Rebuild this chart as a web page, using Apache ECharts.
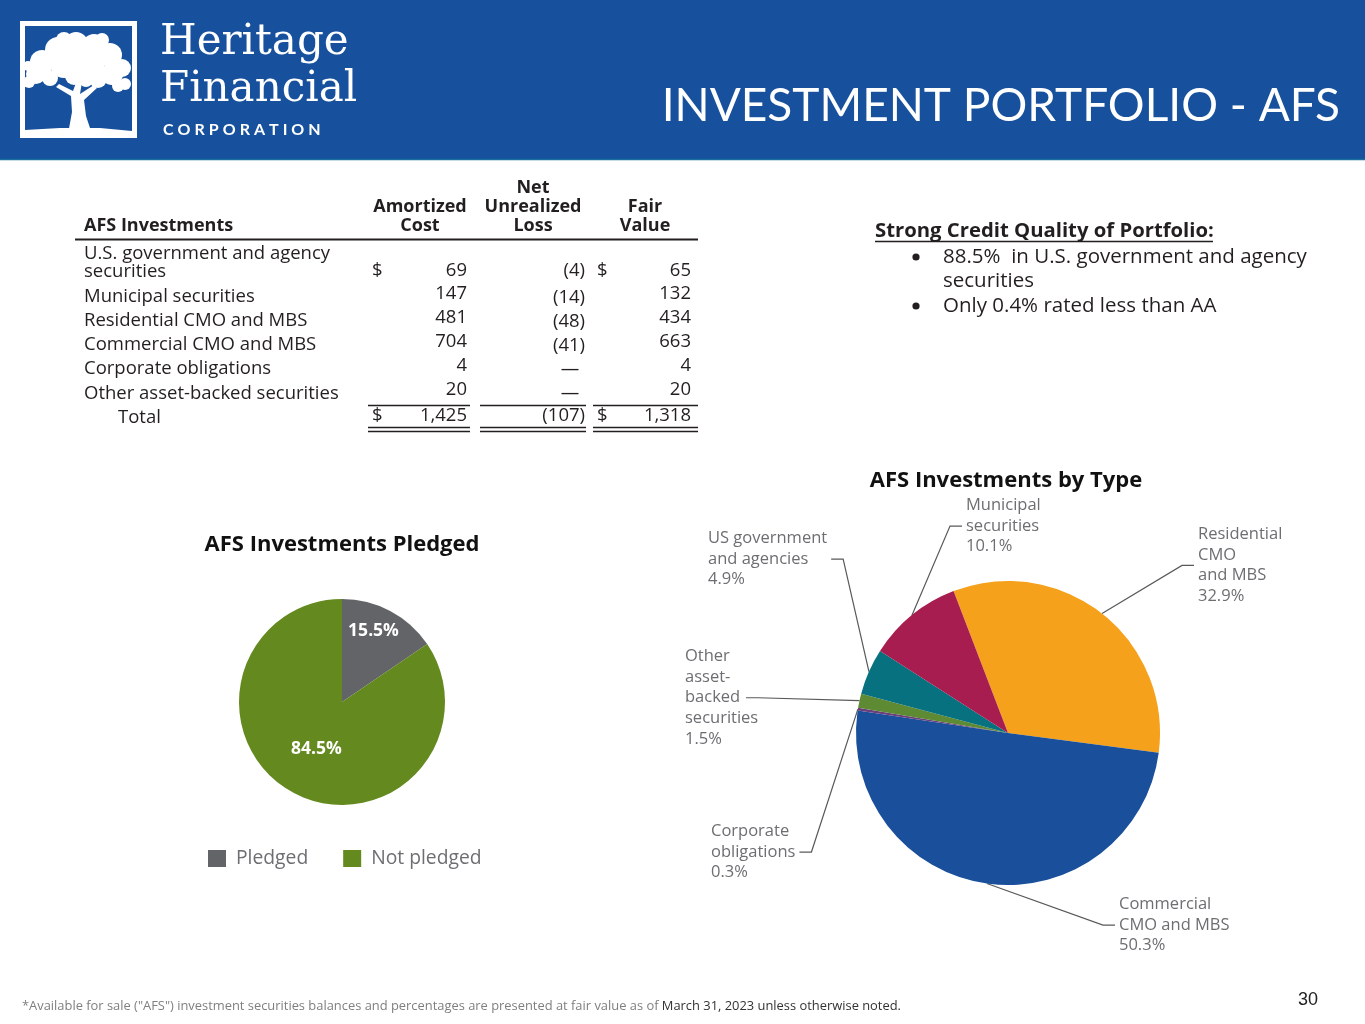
<!DOCTYPE html>
<html>
<head>
<meta charset="utf-8">
<title>Investment Portfolio - AFS</title>
<script src="https://cdn.jsdelivr.net/npm/echarts/dist/echarts.min.js"></script>
<style>
html,body{margin:0;padding:0;background:#ffffff;}
#chart{width:1365px;height:1024px;}
</style>
</head>
<body>
<div id="chart"></div>
<script>
// ---------------- DATA ----------------
const tableHeaders = ['AFS Investments', 'Amortized\nCost', 'Net\nUnrealized\nLoss', 'Fair\nValue'];
const tableCategories = [
  'U.S. government and agency\nsecurities',
  'Municipal securities',
  'Residential CMO and MBS',
  'Commercial CMO and MBS',
  'Corporate obligations',
  'Other asset-backed securities'
];
const amortizedCost = [69, 147, 481, 704, 4, 20];
const netUnrealizedLoss = [-4, -14, -48, -41, 0, 0];
const fairValue = [65, 132, 434, 663, 4, 20];
const totalLabel = 'Total';
const totalAmortizedCost = 1425;
const totalNetUnrealizedLoss = -107;
const totalFairValue = 1318;

const creditTitle = 'Strong Credit Quality of Portfolio:';
const creditBullets = ['88.5%  in U.S. government and agency\nsecurities', 'Only 0.4% rated less than AA'];

const pledgedTitle = 'AFS Investments Pledged';
const pledgedCategories = ['Pledged', 'Not pledged'];
const pledgedValues = [15.5, 84.5];

const typeTitle = 'AFS Investments by Type';
const typeCategories = [
  'Residential\nCMO\nand MBS',
  'Commercial\nCMO and MBS',
  'Corporate\nobligations',
  'Other\nasset-\nbacked\nsecurities',
  'US government\nand agencies',
  'Municipal\nsecurities'
];
const typeValues = [32.9, 50.3, 0.3, 1.5, 4.9, 10.1];

const pageTitle = 'INVESTMENT PORTFOLIO - AFS';
const footnoteGray = '*Available for sale ("AFS") investment securities balances and percentages are presented at fair value as of ';
const footnoteDark = 'March 31, 2023 unless otherwise noted.';
const pageNumber = '30';

// ---------------- STYLE / LAYOUT ----------------
const FONT = '"Open Sans", "Noto Sans", sans-serif';
const FONT2 = 'Lato, "Noto Sans", sans-serif';
const TXT = '#231f20';
const BLUE = '#17509c';
const typeColors = ['#f5a11c', '#194f9b', '#6b3e7c', '#5f8a34', '#08717f', '#a71d4f'];
const pledgedColors = ['#636468', '#64891e'];

const rowLabelY = [263, 297, 321, 345, 369, 394];
const rowNumY = [271, 294, 318, 342, 366, 390];
const rowLossY = [271, 298, 322, 346, 370, 394];
const totalY = 416;

const typeLabelPos = [
  {x: 1198, y: 524, side: 'left'},
  {x: 1119, y: 894, side: 'left'},
  {x: 711, y: 821, side: 'right'},
  {x: 685, y: 646, side: 'right', w: 57},
  {x: 708, y: 528, side: 'right'},
  {x: 966, y: 495, side: 'left'}
];

function fmt(v) { return v.toLocaleString('en-US'); }
function fmtLoss(v) { return v === 0 ? '\u2014' : '(' + fmt(-v) + ')'; }

function txt(text, x, y, opt) {
  opt = opt || {};
  return {
    type: 'text', silent: true,
    style: {
      text: text, x: x, y: y,
      fill: opt.fill || TXT,
      fontSize: opt.size || 17,
      fontFamily: opt.family || FONT,
      fontWeight: opt.weight || 'normal',
      align: opt.align || 'left',
      verticalAlign: opt.va || 'middle',
      lineHeight: opt.lh || Math.round((opt.size || 17) * 1.1),
      rich: opt.rich
    }
  };
}
function hline(x1, x2, y, w, c) {
  return {type: 'line', silent: true, shape: {x1: x1, y1: y, x2: x2, y2: y}, style: {stroke: c || TXT, lineWidth: w || 1.3}};
}

const g = [];
// Header band
g.push({type: 'rect', silent: true, shape: {x: 0, y: 0, width: 1365, height: 160}, style: {fill: BLUE}});
g.push(hline(0, 1365, 159.5, 1.5, '#1b6f9e'));
// Logo square + tree
g.push({type: 'rect', silent: true, shape: {x: 22.5, y: 23.5, width: 112, height: 112}, style: {fill: 'none', stroke: '#fff', lineWidth: 5}});
const canopy = [[42,62,12],[58,50,13],[76,44,12],[94,46,12],[110,55,12],[122,68,9],[112,74,11],[90,62,15],[64,64,14],[36,74,10],[29,82,6],[74,76,9],[98,79,9],[125,84,6],[72,55,12],[50,78,8],[118,86,6],[86,80,7],[28,66,5],[102,40,7],[64,40,8]];
canopy.forEach(c => g.push({type: 'circle', silent: true, shape: {cx: c[0], cy: c[1], r: c[2]}, style: {fill: '#fff'}}));
g.push({type: 'polygon', silent: true, shape: {points: [[68,134],[72,112],[71,96],[56,87],[59,84],[73,91],[77,80],[82,82],[80,94],[94,85],[97,88],[84,100],[86,116],[92,134]]}, style: {fill: '#fff'}});
g.push({type: 'polygon', silent: true, shape: {points: [[25,130],[60,128],[100,128],[132,131],[132,134],[25,134]]}, style: {fill: '#fff'}});
g.push(txt('Heritage', 160, 43, {fill: '#fff', size: 42, family: '"DejaVu Serif", serif'}));
g.push(txt('Financial', 160, 90, {fill: '#fff', size: 42, family: '"DejaVu Serif", serif'}));
g.push(txt('C\u2009\u2009O\u2009\u2009R\u2009\u2009P\u2009\u2009O\u2009\u2009R\u2009\u2009A\u2009\u2009T\u2009\u2009I\u2009\u2009O\u2009\u2009N', 163, 130, {fill: '#fff', size: 16, weight: 'bold', family: FONT2}));
g.push(txt(pageTitle, 1340, 106, {fill: '#fff', size: 46, align: 'right', family: FONT2}));

// Table headers
const HS = 18;
g.push(txt(tableHeaders[0], 84, 226, {weight: 'bold', size: HS}));
g.push(txt(tableHeaders[1], 420, 216.5, {weight: 'bold', size: HS, align: 'center', lh: 19}));
g.push(txt(tableHeaders[2], 533, 207, {weight: 'bold', size: HS, align: 'center', lh: 19}));
g.push(txt(tableHeaders[3], 645, 216.5, {weight: 'bold', size: HS, align: 'center', lh: 19}));
g.push(hline(75, 698, 239.5, 2));
// Table rows
const RS = 18.5;
tableCategories.forEach((name, i) => {
  g.push(txt(name, 84, rowLabelY[i], {size: RS, lh: 18}));
  if (i === 0) {
    g.push(txt('$', 372, rowNumY[i], {size: RS}));
    g.push(txt('$', 597, rowNumY[i], {size: RS}));
  }
  g.push(txt(fmt(amortizedCost[i]), 467, rowNumY[i], {size: RS, align: 'right'}));
  if (netUnrealizedLoss[i] === 0) {
    g.push(txt(fmtLoss(netUnrealizedLoss[i]), 570, rowLossY[i], {size: RS, align: 'center'}));
  } else {
    g.push(txt(fmtLoss(netUnrealizedLoss[i]), 585, rowLossY[i], {size: RS, align: 'right'}));
  }
  g.push(txt(fmt(fairValue[i]), 691, rowNumY[i], {size: RS, align: 'right'}));
});
g.push(txt(totalLabel, 118, totalY + 2, {size: RS}));
g.push(txt('$', 372, totalY, {size: RS}));
g.push(txt(fmt(totalAmortizedCost), 467, totalY, {size: RS, align: 'right'}));
g.push(txt(fmtLoss(totalNetUnrealizedLoss), 585, totalY, {size: RS, align: 'right'}));
g.push(txt('$', 597, totalY, {size: RS}));
g.push(txt(fmt(totalFairValue), 691, totalY, {size: RS, align: 'right'}));
[[368, 470], [480, 586], [593, 698]].forEach(s => {
  g.push(hline(s[0], s[1], 405.5, 1.3));
  g.push(hline(s[0], s[1], 427.5, 1.3));
  g.push(hline(s[0], s[1], 431.5, 1.3));
});

// Credit quality block
g.push(txt(creditTitle, 875, 231, {weight: 'bold', size: 20.3}));
g.push(hline(875, 1213, 241.5, 1.5));
g.push({type: 'circle', silent: true, shape: {cx: 916, cy: 257, r: 3.6}, style: {fill: TXT}});
g.push(txt(creditBullets[0], 943, 269, {size: 20.5, lh: 24.5}));
g.push({type: 'circle', silent: true, shape: {cx: 916, cy: 306, r: 3.6}, style: {fill: TXT}});
g.push(txt(creditBullets[1], 943, 306, {size: 20.5}));

// Chart titles
g.push(txt(pledgedTitle, 342, 545, {weight: 'bold', size: 22, align: 'center', fill: '#111'}));
g.push(txt(typeTitle, 1006, 481, {weight: 'bold', size: 22, align: 'center', fill: '#111'}));

// Footer
g.push({type: 'text', silent: true, style: {
  text: '{a|' + footnoteGray + '}{b|' + footnoteDark + '}', x: 22, y: 1006, verticalAlign: 'middle',
  rich: {
    a: {fontSize: 12.9, fontFamily: FONT, fill: '#7f7f7f'},
    b: {fontSize: 12.9, fontFamily: FONT, fill: '#333333'}
  }
}});
g.push(txt(pageNumber, 1318, 1000, {size: 18, align: 'right', family: '"Liberation Sans", Arial, sans-serif', fill: '#222'}));

const option = {
  animation: false,
  backgroundColor: '#ffffff',
  graphic: {elements: g},
  legend: {
    data: pledgedCategories,
    left: 208, top: 849, padding: 0,
    itemWidth: 18, itemHeight: 17, itemGap: 35,
    icon: 'rect',
    selectedMode: false,
    textStyle: {fontSize: 19.3, fontFamily: FONT, color: '#6d6e71', padding: [0, 0, 0, 5]}
  },
  series: [
    {
      name: 'pledgedPie',
      type: 'pie',
      center: [342, 702],
      radius: 103,
      startAngle: 90,
      clockwise: true,
      silent: true,
      avoidLabelOverlap: false,
      data: pledgedCategories.map((n, i) => ({name: n, value: pledgedValues[i], itemStyle: {color: pledgedColors[i]}})),
      label: {
        show: true, position: 'inside',
        formatter: p => p.value.toFixed(1) + '%',
        color: '#fff', fontWeight: 'bold', fontSize: 17.5, fontFamily: FONT
      },
      labelLayout: p => p.dataIndex === 0 ? {dx: 6, dy: -23} : {dy: -1},
      labelLine: {show: false}
    },
    {
      name: 'typePie',
      type: 'pie',
      center: [1008, 733],
      radius: 152,
      startAngle: 111,
      clockwise: true,
      silent: true,
      avoidLabelOverlap: false,
      data: typeCategories.map((n, i) => ({name: n, value: typeValues[i], itemStyle: {color: typeColors[i]}})),
      label: {
        show: true, position: 'outside',
        formatter: p => p.name + '\n' + p.value.toFixed(1) + '%',
        color: '#6d6e71', fontSize: 16.5, fontFamily: FONT, lineHeight: 20.7, align: 'left'
      },
      labelLine: {show: true, lineStyle: {color: '#58595b', width: 1.2}},
      labelLayout: function (params) {
        const p = typeLabelPos[params.dataIndex];
        const w = p.w || params.labelRect.width;
        const h = params.labelRect.height;
        const midY = p.y + h / 2;
        const start = params.labelLinePoints ? params.labelLinePoints[0] : [p.x, midY];
        let end, elbow;
        if (p.side === 'left') { end = [p.x - 4, midY]; elbow = [p.x - 16, midY]; }
        else { end = [p.x + w + 4, midY]; elbow = [p.x + w + 16, midY]; }
        return {x: p.x, y: p.y, align: 'left', verticalAlign: 'top', labelLinePoints: [start, elbow, end]};
      }
    }
  ]
};

const chart = echarts.init(document.getElementById('chart'), null, {renderer: 'canvas'});
chart.setOption(option);
</script>
</body>
</html>
